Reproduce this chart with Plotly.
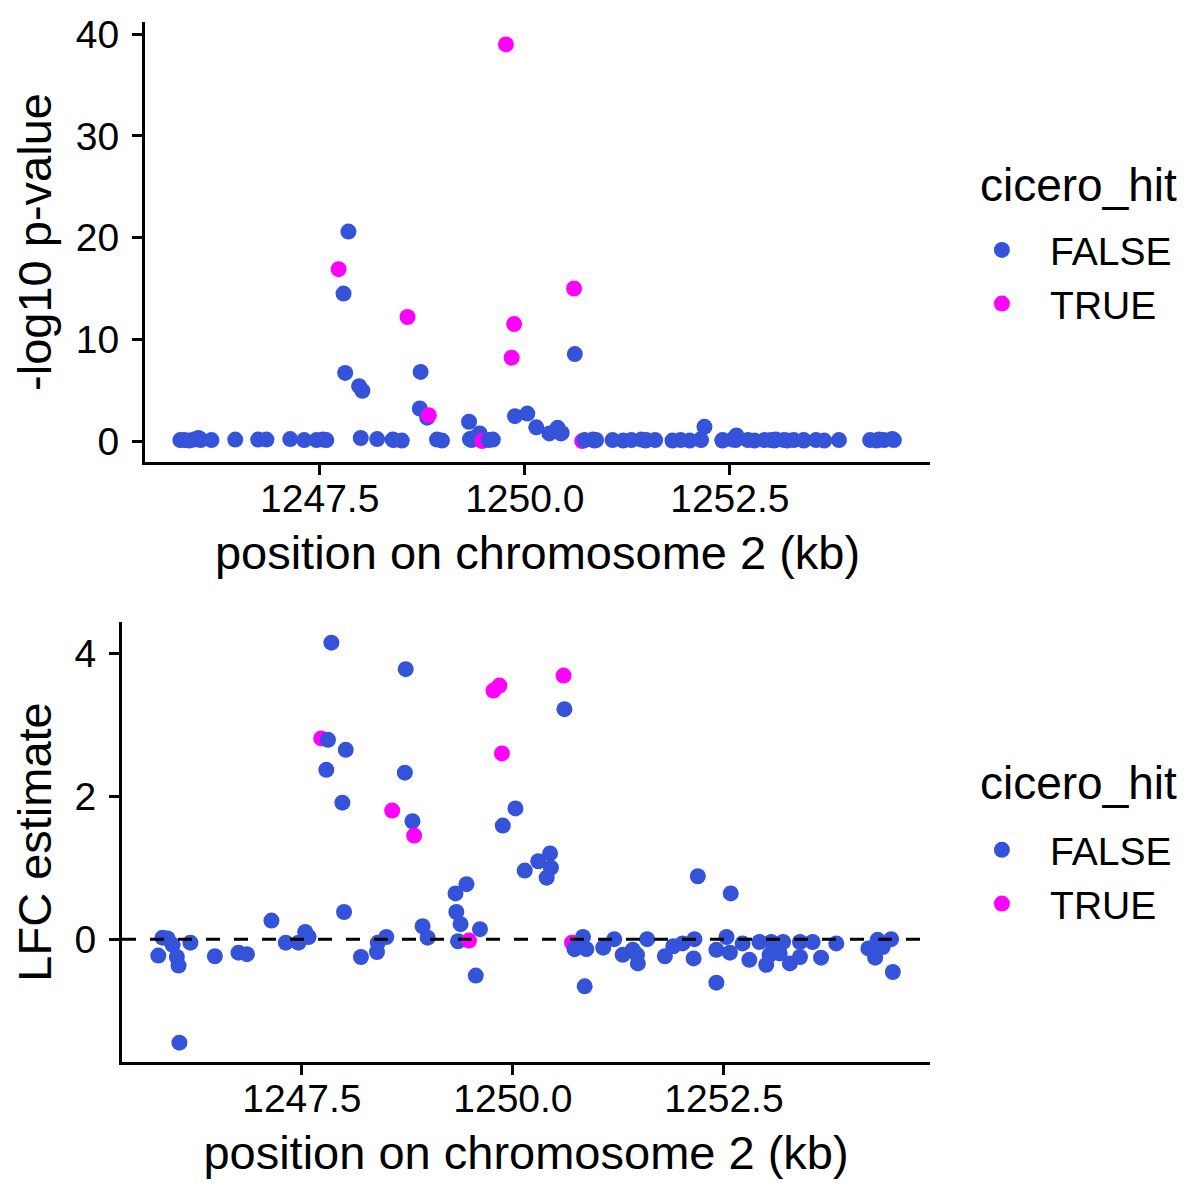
import plotly.graph_objects as go

# peak positions on chromosome 2 (kb), sorted by position
position_kb = [
    1245.80, 1245.85, 1245.91, 1245.97, 1246.02, 1246.04, 1246.05, 1246.18, 1246.47, 1246.75,
    1246.85, 1247.14, 1247.31, 1247.46, 1247.54, 1247.58, 1247.73, 1247.79, 1247.81, 1247.85,
    1247.98, 1248.00, 1248.02, 1248.20, 1248.39, 1248.40, 1248.50, 1248.57, 1248.72, 1248.73,
    1248.81, 1248.83, 1248.93, 1248.99, 1249.32, 1249.33, 1249.35, 1249.38, 1249.45, 1249.48,
    1249.56, 1249.61, 1249.77, 1249.84, 1249.87, 1249.88, 1250.03, 1250.14, 1250.30, 1250.40,
    1250.44, 1250.45, 1250.60, 1250.61, 1250.70, 1250.73, 1250.83, 1250.85, 1250.87, 1251.07,
    1251.20, 1251.30, 1251.42, 1251.47, 1251.48, 1251.59, 1251.80, 1251.90, 1252.01, 1252.14,
    1252.15, 1252.19, 1252.41, 1252.41, 1252.53, 1252.57, 1252.58, 1252.72, 1252.80, 1252.92,
    1253.00, 1253.04, 1253.06, 1253.16, 1253.20, 1253.28, 1253.40, 1253.40, 1253.55, 1253.65,
    1253.83, 1254.21, 1254.29, 1254.32, 1254.38, 1254.48, 1254.50,
]

neg_log10_p = [
    0.10, 0.10, 0.05, 0.15, 0.30, 0.20, 0.10, 0.10, 0.15, 0.15,
    0.15, 0.20, 0.10, 0.10, 0.15, 0.10, 16.9, 14.5, 6.7, 20.6,
    5.4, 0.30, 4.95, 0.20, 0.15, 0.10, 0.05, 12.2, 3.2, 6.8,
    2.3, 2.55, 0.15, 0.05, 1.9, 0.20, 0.10, 0.30, 0.75, 0.00,
    0.10, 0.15, 39.0, 8.2, 11.5, 2.45, 2.7, 1.35, 0.75, 1.3,
    0.75, 0.80, 15.0, 8.55, 0.00, 0.10, 0.15, 0.05, 0.10, 0.10,
    0.05, 0.10, 0.15, 0.05, 0.10, 0.10, 0.05, 0.10, 0.05, 0.15,
    0.10, 1.4, 0.10, 0.05, 0.15, 0.10, 0.55, 0.10, 0.05, 0.10,
    0.10, 0.05, 0.15, 0.10, 0.05, 0.10, 0.10, 0.05, 0.10, 0.05,
    0.10, 0.10, 0.05, 0.15, 0.10, 0.20, 0.10,
]

lfc_estimate = [
    -0.23, 0.02, 0.01, -0.08, -0.25, -0.37, -1.45, -0.05, -0.24, -0.19,
    -0.21, 0.26, -0.05, -0.05, 0.10, 0.03, 2.81, 2.37, 2.79, 4.15,
    1.91, 0.38, 2.65, -0.25, -0.18, -0.05, 0.03, 1.80, 2.33, 3.78,
    1.65, 1.45, 0.18, 0.02, 0.64, 0.38, -0.03, 0.21, 0.77, -0.02,
    -0.51, 0.14, 3.48, 3.55, 2.60, 1.59, 1.83, 0.96, 1.09, 0.86,
    1.20, 1.00, 3.69, 3.22, -0.05, -0.14, 0.03, -0.66, -0.14, -0.12,
    0.00, -0.22, -0.15, -0.22, -0.34, 0.00, -0.24, -0.10, -0.06, -0.27,
    0.00, 0.88, -0.15, -0.61, 0.03, -0.19, 0.64, -0.06, -0.29, -0.04,
    -0.36, -0.22, -0.04, -0.20, -0.04, -0.34, -0.25, -0.04, -0.04, -0.26,
    -0.06, -0.13, -0.26, -0.01, -0.11, 0.00, -0.46,
]

true_idx = [16, 27, 31, 39, 42, 43, 44, 52, 54]
cicero_hit = [i in true_idx for i in range(len(position_kb))]

hit_colors = {False: "#3453D9", True: "#FF00FF"}
point_colors = [hit_colors[h] for h in cicero_hit]

FONT = "Liberation Sans, Arial, sans-serif"
MSIZE = 16

fig = go.Figure()

# top panel: -log10 p-value
fig.add_trace(go.Scatter(
    x=position_kb, y=neg_log10_p, mode="markers",
    marker=dict(size=MSIZE, color=point_colors),
    xaxis="x", yaxis="y", showlegend=False,
))
# bottom panel: LFC estimate
fig.add_trace(go.Scatter(
    x=position_kb, y=lfc_estimate, mode="markers",
    marker=dict(size=MSIZE, color=point_colors),
    xaxis="x2", yaxis="y2", showlegend=False,
))

# legend entries (one legend per panel)
for leg in ["legend", "legend2"]:
    for hit in [False, True]:
        fig.add_trace(go.Scatter(
            x=[None], y=[None], mode="markers",
            marker=dict(size=MSIZE, color=hit_colors[hit]),
            name="\u00a0\u00a0" + str(hit).upper(), legend=leg,
            xaxis="x" if leg == "legend" else "x2",
            yaxis="y" if leg == "legend" else "y2",
        ))

# dashed zero line on the LFC panel
fig.add_shape(type="line", xref="x2 domain", yref="y2", x0=0, x1=1, y0=0, y1=0,
              line=dict(color="black", width=3, dash="14px,14px"), layer="above")

# legend titles
for ty in [0.8433, 0.2683]:
    fig.add_annotation(text="cicero_hit", xref="paper", yref="paper", x=1.0594, y=ty,
                       xanchor="left", yanchor="middle", showarrow=False,
                       font=dict(size=46, color="black", family=FONT))

axis_style = dict(
    showline=True, linecolor="black", linewidth=3,
    ticks="outside", ticklen=10, tickwidth=3, tickcolor="black",
    showgrid=False, zeroline=False, automargin=False,
    tickfont=dict(size=39, color="black", family=FONT),
)
x_ticks = dict(tickvals=[1247.5, 1250.0, 1252.5], ticktext=["1247.5", "1250.0", "1252.5"],
               range=[1245.37, 1254.94], ticklabelstandoff=-10)
x_title = dict(text="position on chromosome 2 (kb)", font=dict(size=47), standoff=18)

fig.update_layout(
    template="none",
    width=1200, height=1200,
    paper_bgcolor="white", plot_bgcolor="white",
    margin=dict(l=114, r=278, t=14, b=146),
    font=dict(family=FONT, color="black"),
    xaxis=dict(domain=[0.0285, 1], anchor="y", title=x_title, **x_ticks, **axis_style),
    yaxis=dict(domain=[0.5769, 1], range=[-2.06, 41.2],
               tickvals=[0, 10, 20, 30, 40], anchor="x", ticklabelstandoff=5,
               title=dict(text="-log10 p-value", font=dict(size=47), standoff=12),
               **axis_style),
    xaxis2=dict(domain=[0, 1], anchor="y2", title=x_title, **x_ticks, **axis_style),
    yaxis2=dict(domain=[0, 0.4231], range=[-1.72, 4.44],
                tickvals=[0, 2, 4], anchor="x2", ticklabelstandoff=5,
                title=dict(text="LFC estimate", font=dict(size=47), standoff=12),
                **axis_style),
    legend=dict(x=1.0562, y=0.8115, xanchor="left", yanchor="top",
                bgcolor="rgba(0,0,0,0)",
                font=dict(size=39), itemwidth=43, tracegroupgap=0),
    legend2=dict(x=1.0562, y=0.2346, xanchor="left", yanchor="top",
                 bgcolor="rgba(0,0,0,0)",
                 font=dict(size=39), itemwidth=43, tracegroupgap=0),
)

fig.write_html("out.html")
